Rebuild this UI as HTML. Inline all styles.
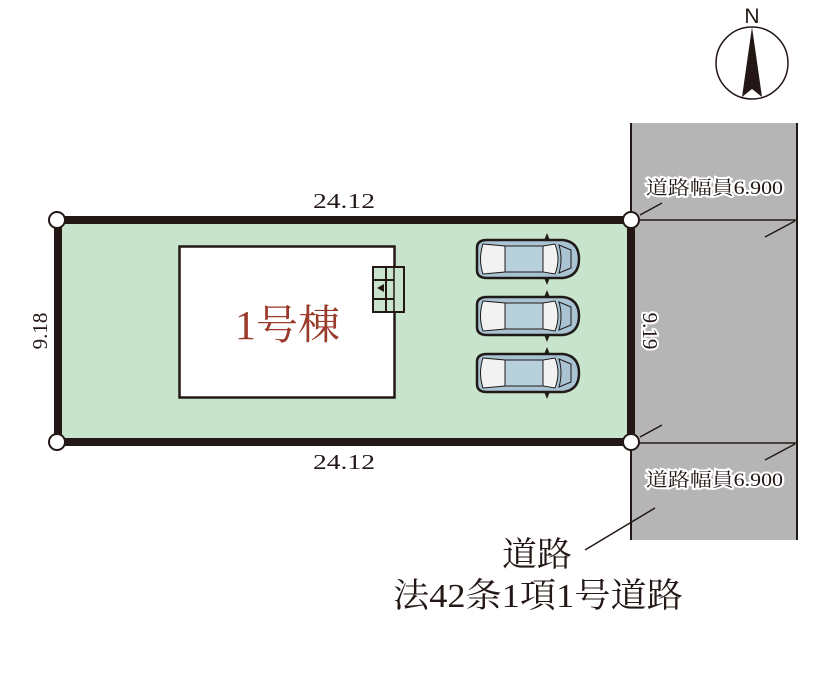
<!DOCTYPE html>
<html><head><meta charset="utf-8"><style>
html,body{margin:0;padding:0;background:#fff;width:840px;height:678px;overflow:hidden}
svg{display:block}
text{font-family:"Liberation Serif","Noto Serif CJK SC",serif}
</style></head><body>
<svg width="840" height="678" viewBox="0 0 840 678" xmlns="http://www.w3.org/2000/svg">
<defs>
<g id="car">
  <path d="M2,10 Q2,2 12,2 L88,2 Q104,4 104,21 Q104,38 88,40 L12,40 Q2,40 2,32 Z" fill="#a9c3d3" stroke="#1f1a17" stroke-width="2.5"/>
  <path d="M8,6 L30,8 L30,34 L8,36 Q3,21 8,6 Z" fill="#f2f2f2" stroke="#1f1a17" stroke-width="1"/>
  <rect x="30" y="8" width="38" height="26" fill="#b8d0dc" stroke="#1f1a17" stroke-width="1"/>
  <path d="M68,8 L80,6 Q86,21 80,36 L68,34 Z" fill="#f2f2f2" stroke="#1f1a17" stroke-width="1"/>
  <path d="M84,7 L96,12 L96,30 L84,35 Q88,21 84,7 Z" fill="#a9c3d3" stroke="#1f1a17" stroke-width="1"/>
  <path d="M70,2 L72,-3 L74,2 M70,40 L72,45 L74,40" fill="#1f1a17" stroke="#1f1a17" stroke-width="1.5"/>
</g>
</defs>
<rect x="631" y="123" width="166" height="417" fill="#b5b5b5"/>
<line x1="631" y1="123" x2="631" y2="540" stroke="#231815" stroke-width="2"/>
<line x1="797" y1="123" x2="797" y2="540" stroke="#231815" stroke-width="2"/>
<line x1="631" y1="220" x2="797" y2="220" stroke="#231815" stroke-width="1.5"/>
<line x1="631" y1="443" x2="797" y2="443" stroke="#231815" stroke-width="1.5"/>
<line x1="640" y1="215" x2="662" y2="203" stroke="#231815" stroke-width="1.5"/>
<line x1="765" y1="237" x2="795" y2="221" stroke="#231815" stroke-width="1.5"/>
<line x1="640" y1="437" x2="662" y2="425" stroke="#231815" stroke-width="1.5"/>
<line x1="765" y1="460" x2="795" y2="444" stroke="#231815" stroke-width="1.5"/>
<line x1="585" y1="550" x2="655" y2="508" stroke="#231815" stroke-width="1.5"/>
<rect x="58" y="220" width="573" height="222" fill="#c8e4cc" stroke="#231815" stroke-width="8"/>
<circle cx="57" cy="220" r="8" fill="#fff" stroke="#231815" stroke-width="2"/>
<circle cx="631" cy="220" r="8" fill="#fff" stroke="#231815" stroke-width="2"/>
<circle cx="57" cy="442" r="8" fill="#fff" stroke="#231815" stroke-width="2"/>
<circle cx="631" cy="442" r="8" fill="#fff" stroke="#231815" stroke-width="2"/>
<rect x="179.5" y="246.5" width="215" height="151" fill="#fff" stroke="#231815" stroke-width="2.5"/>
<rect x="373" y="267" width="31" height="45" fill="#c8e4cc" stroke="#231815" stroke-width="2"/>
<line x1="386" y1="267" x2="386" y2="312" stroke="#231815" stroke-width="2"/>
<line x1="394" y1="267" x2="394" y2="312" stroke="#231815" stroke-width="1.5"/>
<line x1="373" y1="280" x2="394" y2="280" stroke="#231815" stroke-width="2"/>
<line x1="373" y1="299" x2="394" y2="299" stroke="#231815" stroke-width="2"/>
<path d="M377,288 L384,284 L384,292 Z" fill="#231815"/>
<text x="235" y="339" font-size="41" fill="#9a3a2a" textLength="105" lengthAdjust="spacingAndGlyphs">1号棟</text>
<use href="#car" x="475" y="238"/>
<use href="#car" x="475" y="295"/>
<use href="#car" x="475" y="352"/>
<text x="313" y="208" font-size="21" fill="#231815" textLength="62" lengthAdjust="spacingAndGlyphs">24.12</text>
<text x="313" y="469" font-size="21" fill="#231815" textLength="62" lengthAdjust="spacingAndGlyphs">24.12</text>
<text transform="translate(47,331) rotate(-90)" font-size="21" fill="#231815" text-anchor="middle">9.18</text>
<text transform="translate(643,331) rotate(90)" font-size="21" fill="#231815" text-anchor="middle" stroke="#fff" stroke-width="4" paint-order="stroke">9.19</text>
<text x="646" y="194" font-size="19" fill="#231815" stroke="#fff" stroke-width="4" paint-order="stroke" textLength="137" lengthAdjust="spacingAndGlyphs">道路幅員6.900</text>
<text x="646" y="486" font-size="19" fill="#231815" stroke="#fff" stroke-width="4" paint-order="stroke" textLength="137" lengthAdjust="spacingAndGlyphs">道路幅員6.900</text>
<text x="502" y="566" font-size="34" fill="#231815" textLength="70" lengthAdjust="spacingAndGlyphs">道路</text>
<text x="393" y="607" font-size="34" fill="#231815" textLength="290" lengthAdjust="spacingAndGlyphs">法42条1項1号道路</text>
<circle cx="752" cy="63" r="36" fill="#fff" stroke="#231815" stroke-width="1.5"/>
<path d="M752,27 L762,97 L752,89 L742,97 Z" fill="#231815"/>
<text x="752" y="23" font-size="21" fill="#231815" text-anchor="middle" style="font-family:'Liberation Sans',sans-serif">N</text>
</svg>
</body></html>
